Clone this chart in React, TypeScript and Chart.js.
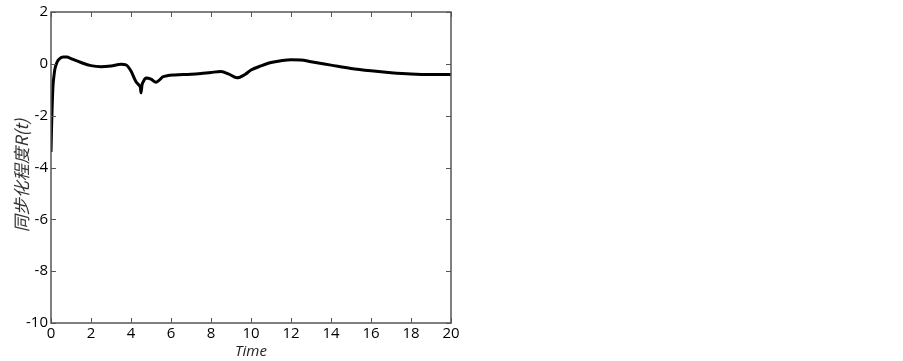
import React, { useEffect, useRef } from "react";
import { Chart, registerables } from "chart.js";

Chart.register(...registerables);

const timeValues = [0, 0.03, 0.06, 0.1, 0.15, 0.2, 0.3, 0.4, 0.6, 0.8, 1.0, 1.5, 2.0, 2.5, 3.0, 3.5, 3.75, 4.0, 4.25, 4.4, 4.47, 4.5, 4.55, 4.62, 4.75, 5.0, 5.25, 5.4, 5.6, 5.8, 6.2, 7.0, 7.5, 8.0, 8.5, 8.9, 9.3, 9.7, 10.0, 10.5, 11.0, 11.5, 12.0, 12.5, 13.0, 14.0, 15.0, 16.0, 17.0, 18.0, 19.0, 20.0];
const syncValues = [-3.4, -2.4, -1.6, -0.85, -0.45, -0.18, 0.06, 0.18, 0.26, 0.26, 0.2, 0.05, -0.07, -0.11, -0.08, -0.02, -0.04, -0.28, -0.69, -0.82, -0.92, -1.12, -0.82, -0.68, -0.55, -0.59, -0.71, -0.64, -0.5, -0.46, -0.43, -0.4, -0.37, -0.33, -0.3, -0.4, -0.54, -0.41, -0.24, -0.08, 0.05, 0.12, 0.16, 0.15, 0.08, -0.05, -0.18, -0.27, -0.34, -0.39, -0.41, -0.41];

const xTicks = [0, 2, 4, 6, 8, 10, 12, 14, 16, 18, 20];
const yTicks = [-10, -8, -6, -4, -2, 0, 2];

const xTitle = "Time";
const yTitle = "同步化程度R(t)";

const frameColor = "#555555";

const framePlugin = {
  id: "matlabFrame",
  afterDatasetsDraw(chart: any) {
    const { ctx, chartArea, scales } = chart;
    const { left, right, top, bottom } = chartArea;
    ctx.save();
    ctx.strokeStyle = frameColor;
    ctx.lineWidth = 1.5;
    ctx.strokeRect(left, top, right - left, bottom - top);
    ctx.lineWidth = 1;
    const len = 5;
    ctx.beginPath();
    for (const v of xTicks) {
      const px = Math.round(scales.x.getPixelForValue(v)) + 0.5;
      ctx.moveTo(px, bottom);
      ctx.lineTo(px, bottom - len);
      ctx.moveTo(px, top);
      ctx.lineTo(px, top + len);
    }
    for (const v of yTicks) {
      const py = Math.round(scales.y.getPixelForValue(v)) + 0.5;
      ctx.moveTo(left, py);
      ctx.lineTo(left + len, py);
      ctx.moveTo(right, py);
      ctx.lineTo(right - len, py);
    }
    ctx.stroke();
    ctx.restore();
  },
};

const yTitlePlugin = {
  id: "yTitleText",
  afterDraw(chart: any) {
    const { ctx, chartArea } = chart;
    ctx.save();
    ctx.translate(22, (chartArea.top + chartArea.bottom) / 2 + 8);
    ctx.rotate(-Math.PI / 2);
    ctx.fillStyle = "#333";
    ctx.font = "italic 17px 'Noto Sans CJK SC', 'Open Sans', sans-serif";
    ctx.textAlign = "center";
    ctx.textBaseline = "middle";
    ctx.fillText(yTitle, 0, 0);
    ctx.restore();
  },
};

export default function App() {
  const canvasRef = useRef<HTMLCanvasElement | null>(null);

  useEffect(() => {
    if (!canvasRef.current) return;
    const points = timeValues.map((t, i) => ({ x: t, y: syncValues[i] }));
    const chart = new Chart(canvasRef.current, {
      type: "line",
      data: {
        datasets: [
          {
            data: points,
            borderColor: "#000000",
            borderWidth: 3,
            pointRadius: 0,
            cubicInterpolationMode: "monotone",
            fill: false,
          },
        ],
      },
      options: {
        animation: false,
        responsive: false,
        maintainAspectRatio: false,
        layout: { padding: { left: 0, top: 10, right: 452, bottom: 0 } },
        plugins: {
          legend: { display: false },
          tooltip: { enabled: false },
        },
        scales: {
          x: {
            type: "linear",
            min: 0,
            max: 20,
            afterBuildTicks: (scale: any) => {
              scale.ticks = xTicks.map((v) => ({ value: v }));
            },
            afterFit: (scale: any) => {
              scale.height = 38;
            },
            grid: { display: false, drawTicks: false },
            border: { display: false },
            ticks: {
              color: "#000",
              font: { family: "'Open Sans', sans-serif", size: 15 },
              padding: 2,
              maxRotation: 0,
            },
            title: {
              display: true,
              text: xTitle,
              color: "#222",
              font: { family: "'Open Sans', sans-serif", size: 15, style: "italic" },
              padding: { top: -4, bottom: 0 },
            },
          },
          y: {
            type: "linear",
            min: -10,
            max: 2,
            afterBuildTicks: (scale: any) => {
              scale.ticks = yTicks.map((v) => ({ value: v }));
            },
            afterFit: (scale: any) => {
              scale.width = 51;
            },
            grid: { display: false, drawTicks: false },
            border: { display: false },
            ticks: {
              color: "#000",
              font: { family: "'Open Sans', sans-serif", size: 15 },
              padding: 3,
            },
            title: { display: false },
          },
        },
      },
      plugins: [framePlugin, yTitlePlugin],
    });
    return () => chart.destroy();
  }, []);

  return (
    <div style={{ position: "absolute", left: 0, top: 0, width: 903, height: 361, background: "#fff" }}>
      <canvas ref={canvasRef} width={903} height={361} style={{ display: "block", width: 903, height: 361 }} />
    </div>
  );
}
